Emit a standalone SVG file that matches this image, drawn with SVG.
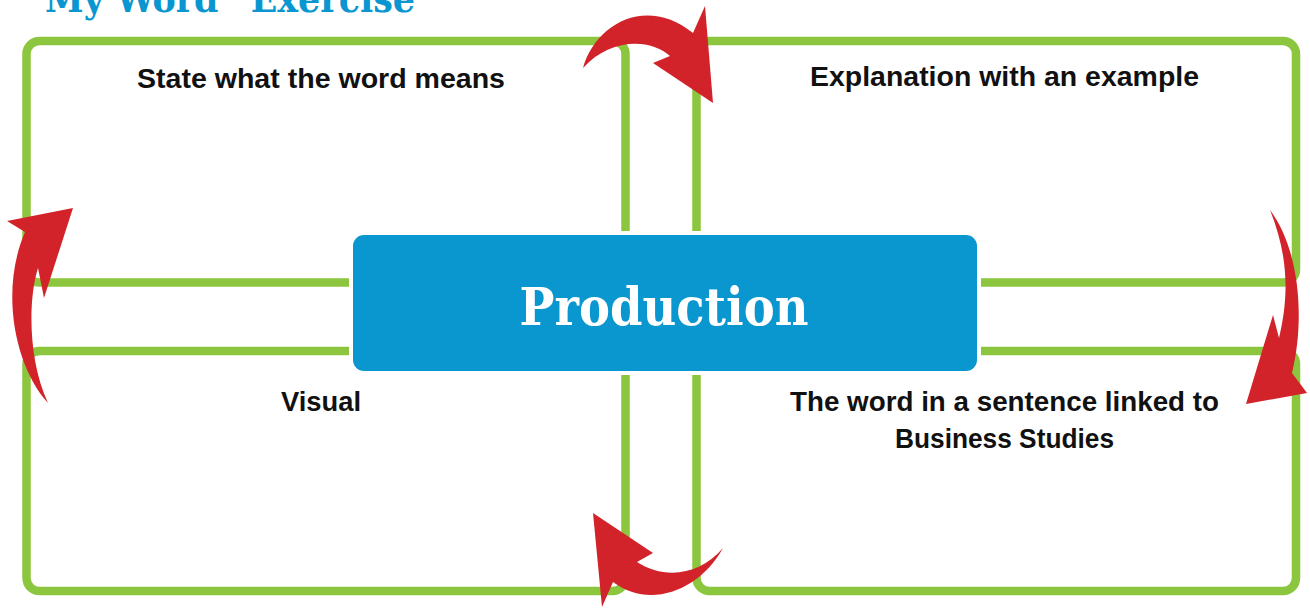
<svg xmlns="http://www.w3.org/2000/svg" width="1310" height="608" viewBox="0 0 1310 608">
<style>
.q{fill:none;stroke:#8cc63f;stroke-width:8.5}
.lbl{font-family:"Liberation Sans",Arial,sans-serif;font-weight:bold;font-size:27px;fill:#111;text-anchor:middle}
.arr{fill:#d2232a}
</style>
<rect width="1310" height="608" fill="#fff"/>
<text x="45" y="12" font-family="'DejaVu Serif',serif" font-weight="bold" font-size="38" fill="#0a96d0" textLength="370" lengthAdjust="spacingAndGlyphs">My Word” Exercise</text>
<g id="q-tl"><rect class="q" x="26.5" y="41" width="599" height="241.5" rx="13"/><text class="lbl" x="321" y="88" textLength="368" lengthAdjust="spacingAndGlyphs">State what the word means</text></g>
<g id="q-tr"><rect class="q" x="696.5" y="41" width="599.5" height="241.5" rx="13"/><text class="lbl" x="1004.5" y="86" textLength="389" lengthAdjust="spacingAndGlyphs">Explanation with an example</text></g>
<g id="q-bl"><rect class="q" x="26.5" y="351" width="599" height="240" rx="13"/><text class="lbl" x="321" y="411" textLength="80" lengthAdjust="spacingAndGlyphs">Visual</text></g>
<g id="q-br"><rect class="q" x="696.5" y="351" width="599.5" height="240" rx="13"/><text class="lbl" x="1004.5" y="411" textLength="429" lengthAdjust="spacingAndGlyphs">The word in a sentence linked to</text><text class="lbl" x="1004.5" y="448" textLength="219" lengthAdjust="spacingAndGlyphs">Business Studies</text></g>
<g id="center"><rect x="351" y="233" width="628" height="140" rx="13" fill="#0a96cf" stroke="#fff" stroke-width="4"/><text x="664" y="325" font-family="'DejaVu Serif',serif" font-weight="bold" font-size="52" fill="#fff" text-anchor="middle" textLength="289" lengthAdjust="spacingAndGlyphs">Production</text></g>
<g id="connectors">
<path class="arr" d="M583,68 C595,25 645,-5 693,33 L705,6 L713,103 L653,63 L670,56 C650,38 610,38 583,68 Z"/>
<path class="arr" d="M1270,210 C1300,250 1305,320 1292,373 L1307,393 L1246,404 L1273,315 L1279,338 C1288,300 1290,260 1270,210 Z"/>
<path class="arr" d="M723,548 C700,590 650,610 613,582 L602,607 L593,513 L653,553 L637,562 C665,580 700,575 723,548 Z"/>
<path class="arr" d="M48,403 C14,365 0,290 25,232 L7,221 L73,208 L44,298 L38,268 C28,300 28,360 48,403 Z"/>
</g>
</svg>
